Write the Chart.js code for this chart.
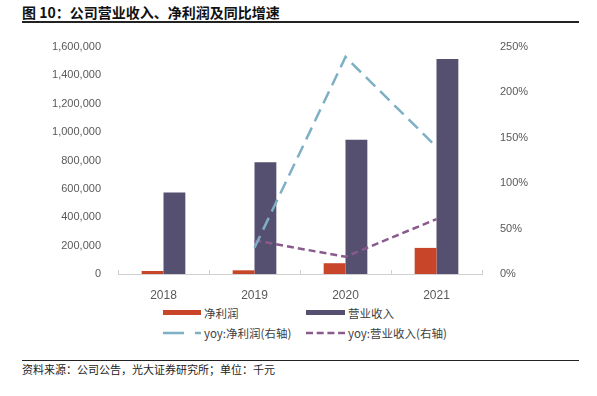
<!DOCTYPE html>
<html><head><meta charset="utf-8">
<script src="https://cdn.jsdelivr.net/npm/chart.js@4/dist/chart.umd.min.js"></script>
<style>
html,body{margin:0;padding:0;background:#fff;width:597px;height:396px;overflow:hidden;font-family:"Liberation Sans","Noto Sans CJK SC",sans-serif;}
#title{position:absolute;left:22px;top:3px;font-family:"Noto Sans CJK SC",sans-serif;font-weight:bold;font-size:14px;color:#111;line-height:18px;}
#tline{position:absolute;left:22px;top:21px;width:557px;height:2px;background:#222;}
#fline{position:absolute;left:22px;top:360px;width:557px;height:1px;background:#222;}
#foot{position:absolute;left:22px;top:362px;font-family:"Noto Sans CJK SC",sans-serif;font-size:11px;color:#222;line-height:14px;}
#wrap{position:absolute;left:0;top:0;width:597px;height:300px;}
.lg{position:absolute;font-family:"Noto Sans CJK SC","Liberation Sans",sans-serif;font-size:11.5px;color:#404040;line-height:14px;display:flex;align-items:center;}
.lg svg{margin-right:3px;}
</style></head>
<body>
<div id="title">图 10：公司营业收入、净利润及同比增速</div>
<div id="tline"></div>
<div id="wrap"><canvas id="c" width="597" height="300"></canvas></div>
<div class="lg" style="left:163px;top:306px;"><svg width="38" height="6"><rect x="0" y="0" width="38" height="5" fill="#C8452A"/></svg><span id="l0"></span></div>
<div class="lg" style="left:306px;top:306px;"><svg width="39" height="6"><rect x="0" y="0" width="39" height="5" fill="#554F70"/></svg><span id="l1"></span></div>
<div class="lg" style="left:163px;top:326px;"><svg width="38" height="4"><line x1="0" y1="2" x2="38" y2="2" stroke="#7DAFC5" stroke-width="2.5" stroke-dasharray="21,11"/></svg><span id="l2"></span></div>
<div class="lg" style="left:306px;top:326px;"><svg width="39" height="4"><line x1="0" y1="2" x2="39" y2="2" stroke="#8A5A8E" stroke-width="2.5" stroke-dasharray="7,3.7"/></svg><span id="l3"></span></div>
<div id="fline"></div>
<div id="foot">资料来源：公司公告，光大证券研究所；单位：千元</div>
<script>
const categories = ["2018","2019","2020","2021"];
const seriesNames = ["净利润","营业收入","yoy:净利润(右轴)","yoy:营业收入(右轴)"];
const netProfit = [21000, 26000, 76000, 184000];
const revenue = [575000, 788000, 946000, 1515000];
const yoyNetProfit = [null, 29, 239, 140];
const yoyRevenue = [null, 37, 19, 60.5];
const leftTicks = [0, 200000, 400000, 600000, 800000, 1000000, 1200000, 1400000, 1600000];
const rightTicks = [0, 50, 100, 150, 200, 250];

seriesNames.forEach((n,i)=>document.getElementById('l'+i).textContent=n);

const innerTicks = {
  id:'innerTicks',
  afterDraw(chart){
    const s = chart.scales.x, ctx = chart.ctx;
    const n = categories.length, w = (s.right - s.left)/n;
    ctx.save();
    ctx.strokeStyle = '#D0D0D0'; ctx.lineWidth = 1;
    for(let i=0;i<=n;i++){
      const x = Math.round(s.left + i*w) + 0.5;
      ctx.beginPath(); ctx.moveTo(x, s.top); ctx.lineTo(x, s.top-4); ctx.stroke();
    }
    ctx.restore();
  }
};

new Chart(document.getElementById('c'), {
  data: {
    labels: categories,
    datasets: [
      {type:'line', label:seriesNames[2], data:yoyNetProfit, yAxisID:'y1', borderColor:'#7DAFC5', borderWidth:2.5, borderDash:[13,7], pointRadius:0, fill:false, tension:0, order:0},
      {type:'line', label:seriesNames[3], data:yoyRevenue, yAxisID:'y1', borderColor:'#8A5A8E', borderWidth:2.5, borderDash:[7,4], pointRadius:0, fill:false, tension:0, order:0},
      {type:'bar', label:seriesNames[0], data:netProfit, yAxisID:'y', backgroundColor:'#C8452A', categoryPercentage:0.48, barPercentage:1, order:1},
      {type:'bar', label:seriesNames[1], data:revenue, yAxisID:'y', backgroundColor:'#554F70', categoryPercentage:0.48, barPercentage:1, order:1}
    ]
  },
  options: {
    responsive:false, animation:false, devicePixelRatio:1,
    layout:{padding:{left:0,right:0,top:47,bottom:0}},
    plugins:{legend:{display:false}, tooltip:{enabled:false}},
    scales:{
      x:{
        grid:{display:false, drawOnChartArea:false},
        border:{display:true, color:'#D0D0D0', width:1},
        ticks:{color:'#595959', font:{family:'"Liberation Sans", sans-serif', size:12}, padding:6},
        afterFit(s){ s.height = 26; }
      },
      y:{
        position:'left', min:0, max:1600000,
        grid:{display:false},
        border:{display:false},
        afterBuildTicks(s){ s.ticks = leftTicks.map(v=>({value:v})); },
        ticks:{color:'#595959', font:{family:'"Liberation Sans", sans-serif', size:11}, padding:9,
          callback:v=>Number(v).toLocaleString('en-US')},
        afterFit(s){ s.width = 118; }
      },
      y1:{
        position:'right', min:0, max:250,
        grid:{display:false},
        border:{display:false},
        afterBuildTicks(s){ s.ticks = rightTicks.map(v=>({value:v})); },
        ticks:{color:'#595959', font:{family:'"Liberation Sans", sans-serif', size:11}, padding:10,
          callback:v=>v+'%'},
        afterFit(s){ s.width = 115; }
      }
    }
  },
  plugins:[innerTicks]
});
</script>
</body></html>
